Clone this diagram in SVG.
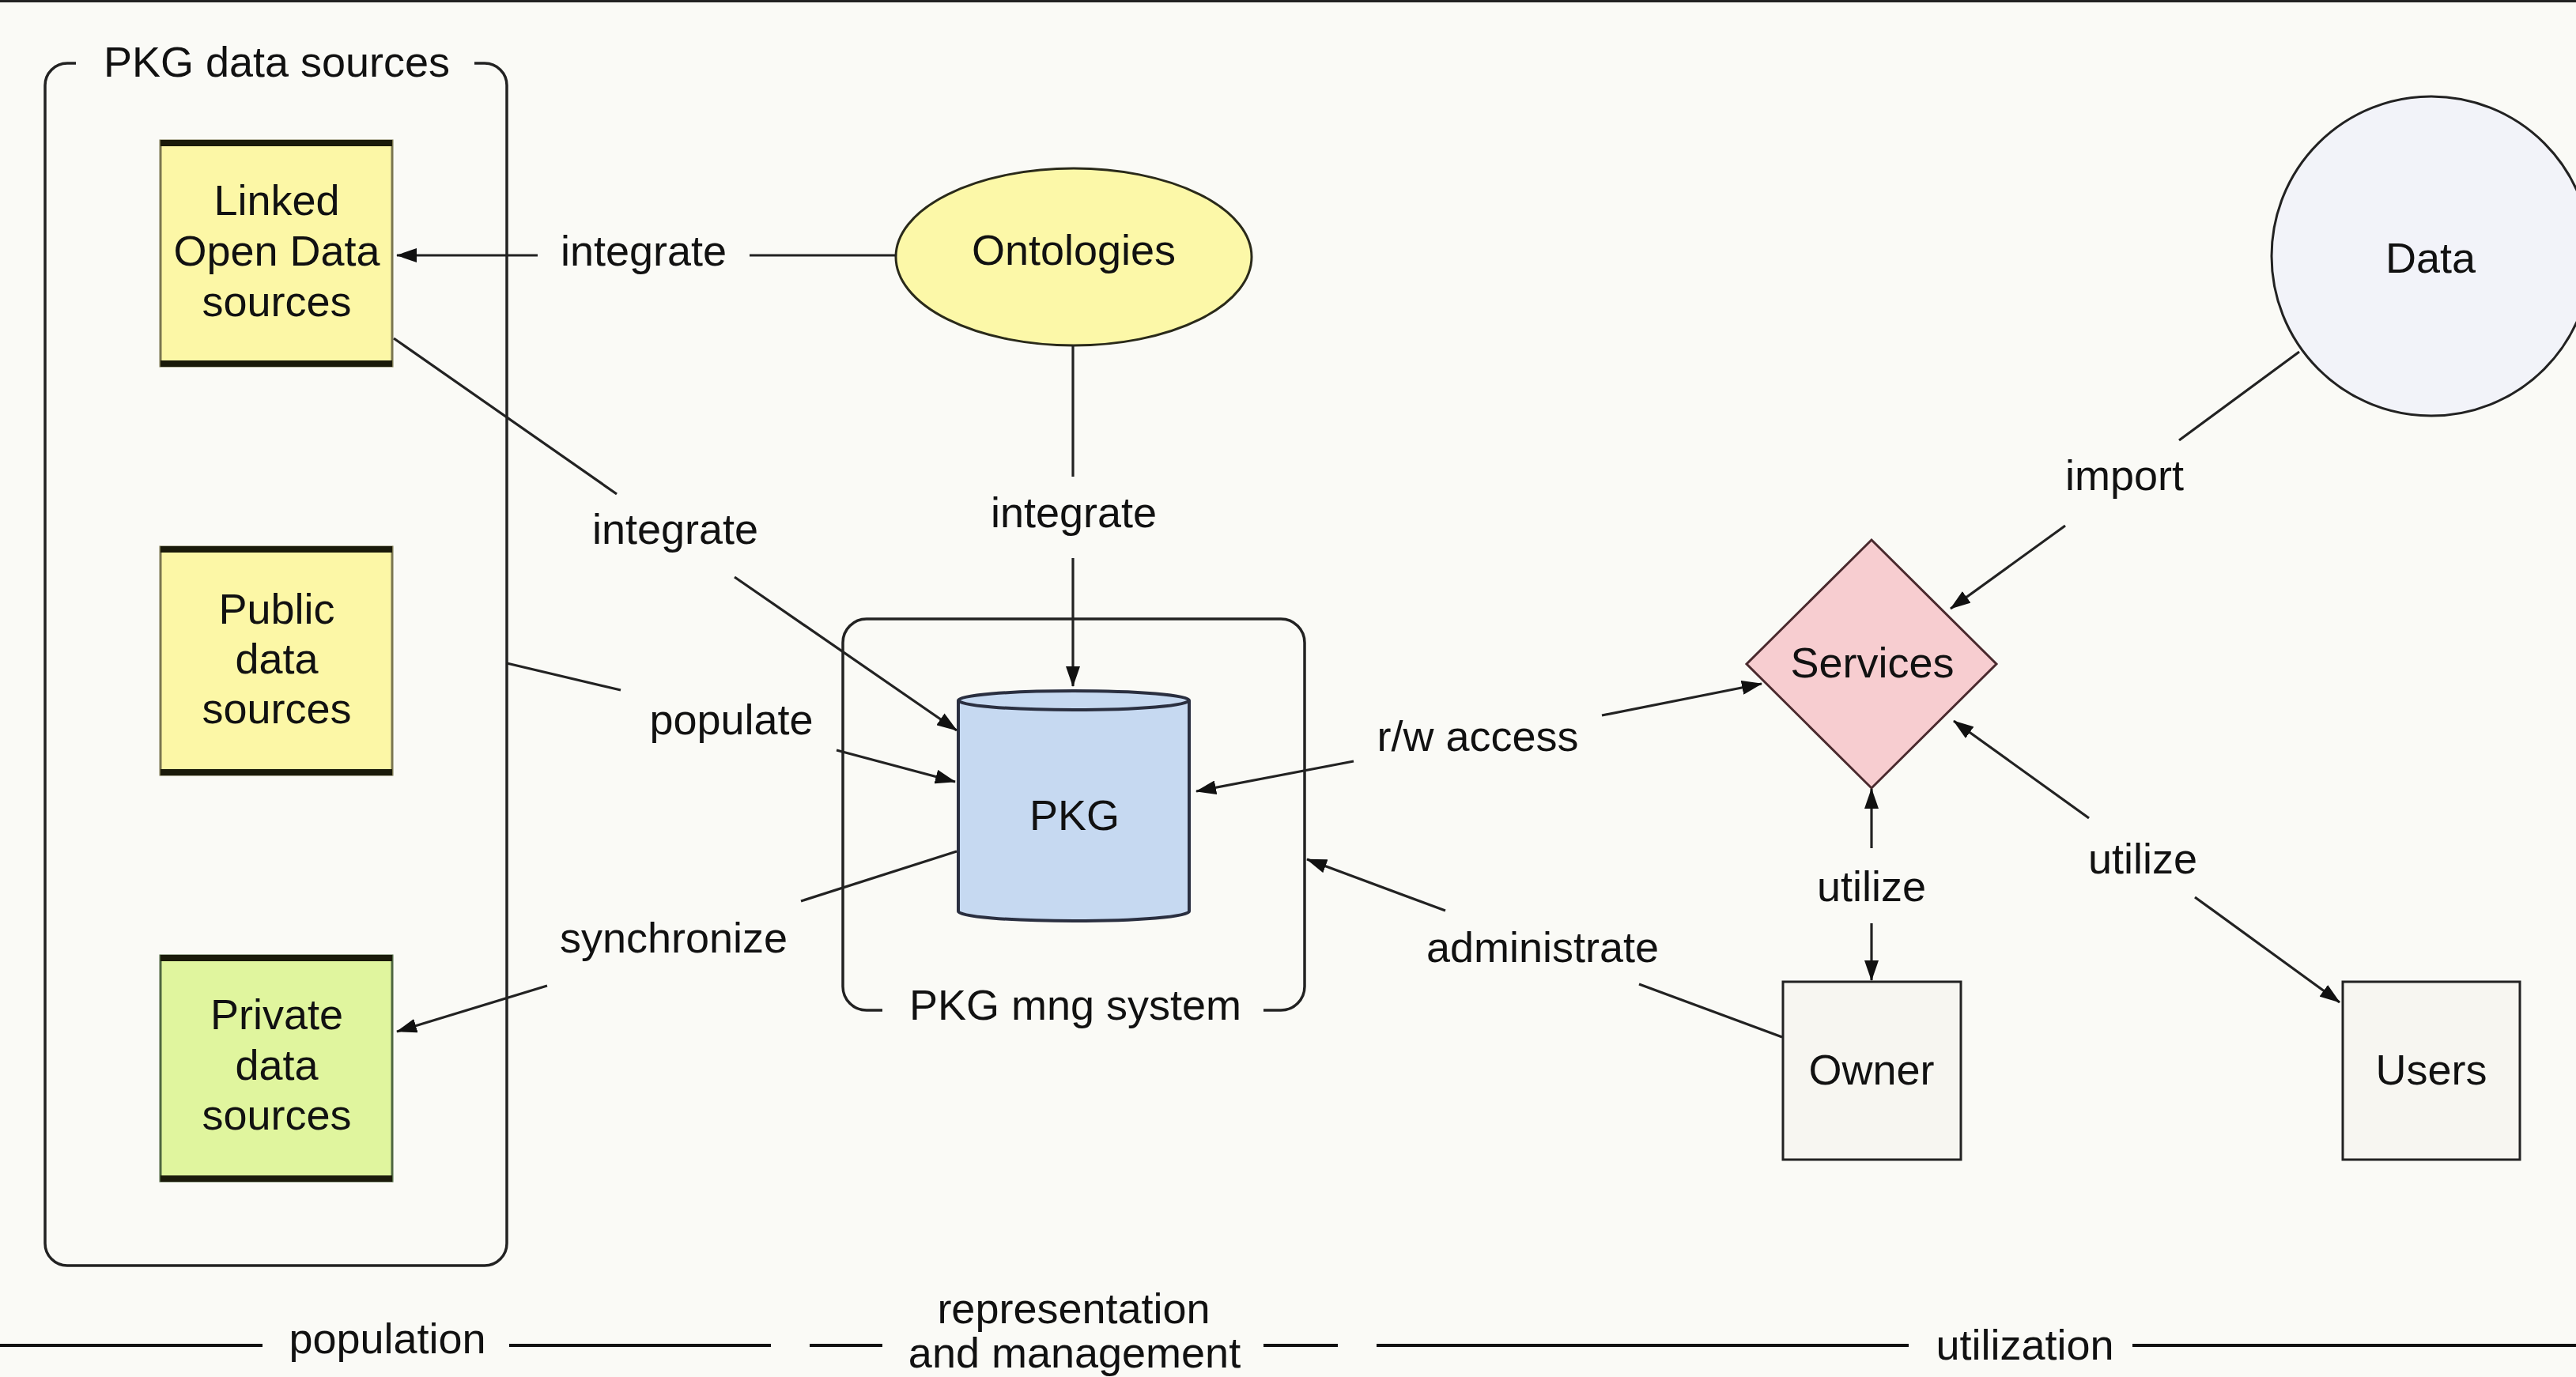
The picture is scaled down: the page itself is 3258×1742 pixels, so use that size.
<svg xmlns="http://www.w3.org/2000/svg" width="3258" height="1742" viewBox="0 0 3258 1742">
<defs>
<style>
text{font-family:"Liberation Sans",Arial,sans-serif;font-size:54px;fill:#111;text-anchor:middle}
.ln{stroke:#222;stroke-width:3.2;fill:none}
.cont{stroke:#222;stroke-width:3.5;fill:none}
.band{stroke:#1a1a0a;stroke-width:8;stroke-linecap:butt}
.phase{stroke:#111;stroke-width:4}
</style>
<marker id="ah" viewBox="0 0 26 18" refX="25" refY="9" markerWidth="26" markerHeight="18" markerUnits="userSpaceOnUse" orient="auto">
<path d="M0,0 L26,9 L0,18 z" fill="#111"/>
</marker>
<linearGradient id="yband" x1="0" x2="1" y1="0" y2="0">
<stop offset="0" stop-color="#111"/><stop offset="0.5" stop-color="#8a8650"/><stop offset="1" stop-color="#111"/>
</linearGradient>
<linearGradient id="gband" x1="0" x2="1" y1="0" y2="0">
<stop offset="0" stop-color="#6a7a5a"/><stop offset="0.5" stop-color="#111"/><stop offset="1" stop-color="#6a7a5a"/>
</linearGradient>
</defs>
<rect x="0" y="0" width="3258" height="1742" fill="#fafaf6"/>
<rect x="0" y="0" width="3258" height="3" fill="#222"/>

<g id="pkg-data-sources">
<path class="cont" d="M96,80 H85 A28,28 0 0 0 57,108 V1573 A28,28 0 0 0 85,1601 H613 A28,28 0 0 0 641,1573 V108 A28,28 0 0 0 613,80 H600"/>
<text x="350" y="97">PKG data sources</text>
</g>

<g id="lod">
<rect x="203" y="178" width="293" height="285" fill="#fcf7a6" stroke="#7a7650" stroke-width="3"/>
<line class="band" x1="203" y1="181" x2="496" y2="181" stroke="url(#yband)"/>
<line class="band" x1="203" y1="460" x2="496" y2="460"/>
<text x="350" y="272">Linked</text>
<text x="350" y="336">Open Data</text>
<text x="350" y="400">sources</text>
</g>

<g id="public">
<rect x="203" y="692" width="293" height="288" fill="#fcf7a6" stroke="#7a7650" stroke-width="3"/>
<line class="band" x1="203" y1="695" x2="496" y2="695" stroke="url(#yband)"/>
<line class="band" x1="203" y1="977" x2="496" y2="977"/>
<text x="350" y="789">Public</text>
<text x="350" y="852">data</text>
<text x="350" y="915">sources</text>
</g>

<g id="private">
<rect x="203" y="1209" width="293" height="285" fill="#e0f59e" stroke="#4e6640" stroke-width="3"/>
<line class="band" x1="203" y1="1212" x2="496" y2="1212" stroke="url(#gband)"/>
<line class="band" x1="203" y1="1491" x2="496" y2="1491"/>
<text x="350" y="1302" fill="#0e2a0a">Private</text>
<text x="350" y="1366" fill="#0e2a0a">data</text>
<text x="350" y="1429" fill="#0e2a0a">sources</text>
</g>

<g id="ontologies">
<ellipse cx="1358" cy="325" rx="225" ry="112" fill="#fcf8a8" stroke="#2a2a1a" stroke-width="3"/>
<text x="1358" y="335">Ontologies</text>
</g>

<g id="pkg-mng-system">
<path class="cont" d="M1116,1278 H1096 A30,30 0 0 1 1066,1248 V813 A30,30 0 0 1 1096,783 H1620 A30,30 0 0 1 1650,813 V1248 A30,30 0 0 1 1620,1278 H1598"/>
<text x="1360" y="1290">PKG mng system</text>
</g>

<g id="pkg">
<path d="M1212,886 V1153 A146,12 0 0 0 1504,1153 V886 A146,12 0 0 0 1212,886 z" fill="#c6d9f1" stroke="#2a2f40" stroke-width="4"/>
<path d="M1212,886 A146,12 0 0 0 1504,886" fill="none" stroke="#2a2f40" stroke-width="4"/>
<text x="1359" y="1050" fill="#1a1f30">PKG</text>
</g>

<g id="services">
<polygon points="2367,683 2525,840 2367,997 2209,840" fill="#f7cdd0" stroke="#4a2a2e" stroke-width="3"/>
<text x="2368" y="857" fill="#3a0a12">Services</text>
</g>

<g id="data">
<circle cx="3075" cy="324" r="202" fill="#f2f3f9" stroke="#222" stroke-width="3"/>
<text x="3074" y="345">Data</text>
</g>

<g id="owner">
<rect x="2255" y="1242" width="225" height="225" fill="#f7f6f1" stroke="#222" stroke-width="3"/>
<text x="2367" y="1372">Owner</text>
</g>

<g id="users">
<rect x="2963" y="1242" width="224" height="225" fill="#f7f6f1" stroke="#222" stroke-width="3"/>
<text x="3075" y="1372">Users</text>
</g>

<g id="connectors">
<line class="ln" x1="1134" y1="323" x2="948" y2="323"/>
<line class="ln" x1="680" y1="323" x2="502" y2="323" marker-end="url(#ah)"/>
<text x="814" y="336">integrate</text>

<line class="ln" x1="498" y1="428" x2="780" y2="625"/>
<line class="ln" x1="929" y1="730" x2="1210" y2="924" marker-end="url(#ah)"/>
<text x="854" y="688">integrate</text>

<line class="ln" x1="1357" y1="437" x2="1357" y2="603"/>
<line class="ln" x1="1357" y1="706" x2="1357" y2="868" marker-end="url(#ah)"/>
<text x="1358" y="667">integrate</text>

<line class="ln" x1="641" y1="839" x2="785" y2="873"/>
<line class="ln" x1="1058" y1="949" x2="1208" y2="989" marker-end="url(#ah)"/>
<text x="925" y="929">populate</text>

<line class="ln" x1="1210" y1="1077" x2="1013" y2="1140"/>
<line class="ln" x1="692" y1="1247" x2="502" y2="1305" marker-end="url(#ah)"/>
<text x="852" y="1205">synchronize</text>

<line class="ln" x1="2026" y1="905" x2="2228" y2="865" marker-end="url(#ah)"/>
<line class="ln" x1="1712" y1="963" x2="1513" y2="1001" marker-end="url(#ah)"/>
<text x="1869" y="950">r/w access</text>

<line class="ln" x1="2908" y1="445" x2="2756" y2="557"/>
<line class="ln" x1="2612" y1="665" x2="2467" y2="770" marker-end="url(#ah)"/>
<text x="2687" y="620">import</text>

<line class="ln" x1="2367" y1="1073" x2="2367" y2="998" marker-end="url(#ah)"/>
<line class="ln" x1="2367" y1="1168" x2="2367" y2="1240" marker-end="url(#ah)"/>
<text x="2367" y="1140">utilize</text>

<line class="ln" x1="2642" y1="1035" x2="2471" y2="912" marker-end="url(#ah)"/>
<line class="ln" x1="2776" y1="1135" x2="2959" y2="1268" marker-end="url(#ah)"/>
<text x="2710" y="1105">utilize</text>

<line class="ln" x1="2254" y1="1312" x2="2073" y2="1245"/>
<line class="ln" x1="1828" y1="1152" x2="1653" y2="1087" marker-end="url(#ah)"/>
<text x="1951" y="1217">administrate</text>
</g>

<g id="phases">
<line class="phase" x1="0" y1="1702" x2="332" y2="1702"/>
<line class="phase" x1="644" y1="1702" x2="975" y2="1702"/>
<text x="490" y="1712">population</text>
<line class="phase" x1="1024" y1="1702" x2="1116" y2="1702"/>
<line class="phase" x1="1598" y1="1702" x2="1692" y2="1702"/>
<text x="1358" y="1674">representation</text>
<text x="1359" y="1730">and management</text>
<line class="phase" x1="1741" y1="1702" x2="2414" y2="1702"/>
<line class="phase" x1="2697" y1="1702" x2="3258" y2="1702"/>
<text x="2561" y="1720">utilization</text>
</g>
</svg>
